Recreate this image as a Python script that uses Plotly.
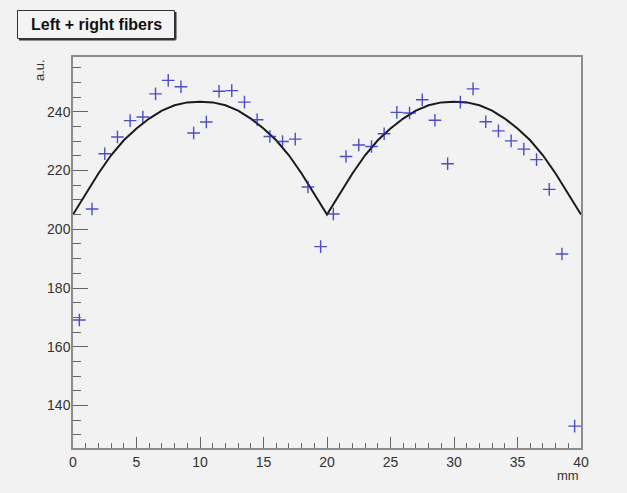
import plotly.graph_objects as go

# ---- data ----
x_points = [0.5, 1.5, 2.5, 3.5, 4.5, 5.5, 6.5, 7.5, 8.5, 9.5,
            10.5, 11.5, 12.5, 13.5, 14.5, 15.5, 16.5, 17.5, 18.5, 19.5,
            20.5, 21.5, 22.5, 23.5, 24.5, 25.5, 26.5, 27.5, 28.5, 29.5,
            30.5, 31.5, 32.5, 33.5, 34.5, 35.5, 36.5, 37.5, 38.5, 39.5]
y_points = [169.1, 206.9, 225.7, 231.4, 237.0, 238.2, 246.1, 250.7, 248.5, 232.8,
            236.5, 247.0, 247.2, 243.3, 237.3, 231.6, 229.9, 230.7, 214.4, 194.1,
            205.2, 224.8, 228.7, 228.2, 232.5, 239.8, 239.6, 244.1, 237.1, 222.3,
            243.3, 247.8, 236.6, 233.5, 230.1, 227.3, 223.7, 213.6, 191.6, 133.0]

x_fit = list(range(0, 41))
y_fit = [205.0, 212.0, 219.0, 225.2, 230.3, 234.3, 237.7, 240.4, 242.2, 243.2,
         243.4, 243.2, 242.2, 240.4, 237.7, 234.3, 230.3, 225.2, 219.0, 212.0,
         205.0, 212.0, 219.0, 225.2, 230.3, 234.3, 237.7, 240.4, 242.2, 243.2,
         243.4, 243.2, 242.2, 240.4, 237.7, 234.3, 230.3, 225.2, 219.0, 212.0,
         205.0]

title_text = "Left + right fibers"
x_title = "mm"
y_title = "a.u."

BG = "#f2f2f2"
AX = "#8c8c8c"
FONT = "Liberation Sans Narrow, Arial Narrow, Liberation Sans, Arial, sans-serif"

fig = go.Figure()
fig.add_trace(go.Scatter(
    x=x_fit, y=y_fit, mode="lines",
    line=dict(color="#1a1a1a", width=2), hoverinfo="skip", showlegend=False))
fig.add_trace(go.Scatter(
    x=x_points, y=y_points, mode="markers",
    marker=dict(symbol="cross-thin", size=9,
                line=dict(color="rgba(35,35,190,0.8)", width=1.4)),
    showlegend=False))

L, R, T, B = 73, 46, 57, 45
W, H = 627, 493
pw = W - L - R
ph = H - T - B


def px(xp):
    return (xp - L) / pw


def py(yp):
    return (H - B - yp) / ph


fig.update_layout(
    width=W, height=H,
    margin=dict(l=L, r=R, t=T, b=B),
    paper_bgcolor=BG, plot_bgcolor=BG,
    font=dict(family=FONT, size=14, color="#333333"),
    xaxis=dict(range=[0, 40], showgrid=False, zeroline=False,
               showline=True, linecolor=AX, linewidth=1.5, mirror=True,
               ticks="inside", ticklen=11, tickwidth=1, tickcolor="#666666",
               dtick=5, tick0=0,
               minor=dict(ticks="inside", ticklen=5, dtick=1, tickcolor="#666666", showgrid=False),
               tickfont=dict(family=FONT, size=14, color="#333333")),
    yaxis=dict(range=[125.54, 258.65], showgrid=False, zeroline=False,
               showline=True, linecolor=AX, linewidth=1.5, mirror=True,
               ticks="inside", ticklen=15, tickwidth=1, tickcolor="#666666",
               dtick=20, tick0=0, ticklabelstandoff=-2,
               minor=dict(ticks="inside", ticklen=8, dtick=5, tickcolor="#666666", showgrid=False),
               tickfont=dict(family=FONT, size=14, color="#333333")),
    shapes=[
        dict(type="rect", xref="paper", yref="paper",
             x0=px(17.5), x1=px(174.5), y0=py(38.5), y1=py(10.5),
             line=dict(color="#333333", width=1), fillcolor="#f4f4f4", layer="above"),
        dict(type="line", xref="paper", yref="paper",
             x0=px(19), x1=px(175.5), y0=py(39.5), y1=py(39.5),
             line=dict(color="#333333", width=2)),
        dict(type="line", xref="paper", yref="paper",
             x0=px(175.5), x1=px(175.5), y0=py(12), y1=py(39.5),
             line=dict(color="#333333", width=2)),
    ],
    annotations=[
        dict(text="<b>" + title_text + "</b>", xref="paper", yref="paper",
             x=px(96), y=py(24.5), xanchor="center", yanchor="middle",
             showarrow=False, font=dict(family=FONT, size=16, color="#111111")),
        dict(text=y_title, xref="paper", yref="paper",
             x=px(39), y=1.0, xanchor="center", yanchor="top", textangle=-90,
             showarrow=False, font=dict(family=FONT, size=13, color="#333333")),
        dict(text=x_title, xref="paper", yref="paper",
             x=1.0, y=py(476), xanchor="right", yanchor="middle",
             showarrow=False, font=dict(family=FONT, size=13, color="#333333")),
    ],
)

fig.write_html("out.html",
               config={"displayModeBar": False},
               post_script="document.body.style.margin='0';document.body.style.background='%s';" % BG)
